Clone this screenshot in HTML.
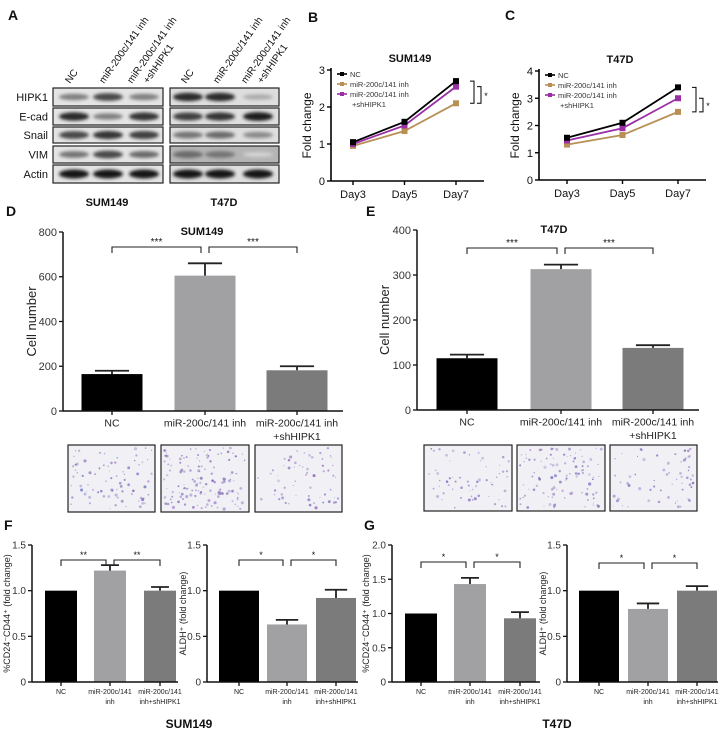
<!DOCTYPE html>
<html><head><meta charset="utf-8">
<style>
html,body{margin:0;padding:0;background:#fff;}
svg{display:block;font-family:"Liberation Sans",Arial,sans-serif;}
</style></head>
<body>
<svg id="fig" width="725" height="734" viewBox="0 0 725 734" xmlns="http://www.w3.org/2000/svg">
<defs>
<filter id="blur1" x="-20%" y="-80%" width="140%" height="260%"><feGaussianBlur stdDeviation="1.6"/></filter>
</defs>
</svg>
<script>
// ---------- data ----------
const blotRows=['HIPK1','E-cad','Snail','VIM','Actin'];
const blotSum=[[.5,.75,.5],[.9,.5,.85],[.75,.85,.8],[.55,.75,.6],[1,1,1]];
const blotT47=[[.9,.9,.3],[.8,.85,.95],[.55,.6,.45],[.6,.55,.1],[1,1,1]];

const dayLabels=['Day3','Day5','Day7'];
const bNC=[1.05,1.6,2.7];
const bInh=[0.95,1.35,2.1];
const bSh=[1.0,1.5,2.55];
const bTicks=[0,1,2,3];
const cNC=[1.55,2.1,3.4];
const cInh=[1.3,1.65,2.5];
const cSh=[1.45,1.9,3.0];
const cTicks=[0,1,2,3,4];

const dCats=['NC','miR-200c/141 inh','miR-200c/141 inh|+shHIPK1'];
const dVals=[165,605,182];
const dErr=[15,55,18];
const dTicks=[0,200,400,600,800];
const eVals=[115,313,138];
const eErr=[8,10,6];
const eTicks=[0,100,200,300,400];

const fCats=['NC','miR-200c/141|inh','miR-200c/141|inh+shHIPK1'];
const f1Vals=[1.0,1.22,1.0];
const f1Err=[0,0.06,0.04];
const f2Vals=[1.0,0.63,0.92];
const f2Err=[0,0.05,0.09];
const g1Vals=[1.0,1.43,0.93];
const g1Err=[0,0.09,0.09];
const g2Vals=[1.0,0.8,1.0];
const g2Err=[0,0.06,0.05];
const fTicks=[0,0.5,1.0,1.5];
const gTicks=[0,0.5,1.0,1.5,2.0];
const fTickText=['0','0.5','1.0','1.5'];
const gTickText=['0','0.5','1.0','1.5','2.0'];

// ---------- helpers ----------
const NS='http://www.w3.org/2000/svg';
const svg=document.getElementById('fig');
function el(tag,attrs,parent){const e=document.createElementNS(NS,tag);for(const k in attrs)e.setAttribute(k,attrs[k]);(parent||svg).appendChild(e);return e;}
function txt(s,x,y,size,opts,parent){opts=opts||{};const t=el('text',{x:x,y:y,'font-size':size,'text-anchor':opts.anchor||'middle',fill:opts.fill||'#111','font-weight':opts.bold?'bold':'normal'},parent);if(opts.transform)t.setAttribute('transform',opts.transform);t.textContent=s;return t;}

[['A',8,20],['B',308,22],['C',505,20],['D',6,216],['E',366,216],['F',4,530],['G',364,530]].forEach(p=>{
  const t=txt(p[0],p[1],p[2],14,{anchor:'start',bold:true});
  
  
});

// ---------- Panel A ----------
const rowY=[88,108,127,146,165], rowH=[18,17,16,17,18];
function blot(box,data,lanes,gName,darkVim){
  const g=el('g',{});
  
  
  for(let r=0;r<blotRows.length;r++){
    const bg=(darkVim&&r===3)?'#b4b4b4':(darkVim?'#dedede':'#e4e4e4');
    const rect=el('rect',{x:box[0],y:rowY[r],width:box[1]-box[0],height:rowH[r],fill:bg,stroke:'#222','stroke-width':1.2},g);
    
    
    for(let l=0;l<3;l++){
      const v=data[r][l];
      const c=Math.round(235-215*v);
      const e=el('ellipse',{cx:lanes[l],cy:rowY[r]+rowH[r]/2,rx:15,ry:2+2.5*v,fill:`rgb(${c},${c},${c})`,filter:'url(#blur1)'},g);
      
      
    }
  }
}
blot([53,163],blotSum,[74,108,144],'blot-sum149',false);
blot([170,279],blotT47,[188,220,258],'blot-t47d',true);
blotRows.forEach((n,r)=>{const t=txt(n,48,rowY[r]+rowH[r]/2+4,11,{anchor:'end'});});
[[74,'NC'],[108,'miR-200c/141 inh'],[136,'miR-200c/141 inh'],[152,'+shHIPK1'],[190,'NC'],[222,'miR-200c/141 inh'],[250,'miR-200c/141 inh'],[266,'+shHIPK1']].forEach(p=>{
  const t=txt(p[1],p[0]-4,84,10,{anchor:'start',transform:`rotate(-55 ${p[0]-4} 84)`});
  
  
});
[['SUM149',107],['T47D',224]].forEach(p=>{const t=txt(p[0],p[1],206,11,{bold:true});});

// ---------- line charts ----------
function lineChart(cfg){
  const g=el('g',{});
  
  
  const ys=v=>cfg.y0-(v/cfg.max)*(cfg.y0-cfg.yTop);
  const xs=i=>cfg.x1+i*cfg.step;
  el('line',{x1:cfg.ax,y1:cfg.yTop-2,x2:cfg.ax,y2:cfg.y0,stroke:'#000','stroke-width':1.6},g);
  el('line',{x1:cfg.ax,y1:cfg.y0,x2:cfg.xEnd,y2:cfg.y0,stroke:'#000','stroke-width':1.6},g);
  cfg.ticks.forEach(t=>{
    el('line',{x1:cfg.ax-4,y1:ys(t),x2:cfg.ax,y2:ys(t),stroke:'#000','stroke-width':1.4},g);
    const tl=txt(String(t),cfg.ax-6,ys(t)+4,11,{anchor:'end'},g);
    
    
  });
  dayLabels.forEach((d,i)=>{
    el('line',{x1:xs(i),y1:cfg.y0,x2:xs(i),y2:cfg.y0+4,stroke:'#000','stroke-width':1.4},g);
    const tl=txt(d,xs(i),cfg.y0+17,11,{},g);
    
    
  });
  const yt=txt('Fold change',cfg.ax-20,(cfg.y0+cfg.yTop)/2,12,{transform:`rotate(-90 ${cfg.ax-20} ${(cfg.y0+cfg.yTop)/2})`},g);
  
  
  const tt=txt(cfg.title,cfg.titleX,cfg.yTop-8,11,{bold:true},g);
  
  
  const series=[[cfg.inh,'#b89056','series-mir-inh'],[cfg.sh,'#9a2fa6','series-mir-inh-shhipk1'],[cfg.nc,'#000','series-nc']];
  series.forEach(s=>{
    const pts=s[0].map((v,i)=>xs(i)+','+ys(v)).join(' ');
    const pl=el('polyline',{points:pts,fill:'none',stroke:s[1],'stroke-width':1.8},g);
    
    
    s[0].forEach((v,i)=>{
      const m=el('rect',{x:xs(i)-3,y:ys(v)-3,width:6,height:6,fill:s[1]},g);
      
      
    });
  });
  const bx=cfg.xEnd-10;
  const yA=ys(cfg.nc[2]), yB=ys(cfg.inh[2]), yC=ys(cfg.sh[2]);
  el('polyline',{points:`${bx-4},${yA} ${bx},${yA} ${bx},${yB} ${bx-4},${yB}`,fill:'none',stroke:'#000','stroke-width':1},g);
  el('polyline',{points:`${bx+3},${yC} ${bx+7},${yC} ${bx+7},${yB} ${bx+3},${yB}`,fill:'none',stroke:'#000','stroke-width':1},g);
  txt('*',bx+12,(yC+yB)/2+4,9,{},g);
  const L=[['NC','#000'],['miR-200c/141 inh','#b89056'],['miR-200c/141 inh','#9a2fa6']];
  L.forEach((l,i)=>{
    const ly=cfg.yTop+4+i*10;
    const ln=el('line',{x1:cfg.ax+6,y1:ly,x2:cfg.ax+16,y2:ly,stroke:l[1],'stroke-width':1.6},g);
    
    
    el('rect',{x:cfg.ax+9,y:ly-2,width:4,height:4,fill:l[1]},g);
    txt(l[0],cfg.ax+19,ly+3,7.5,{anchor:'start',fill:'#333'},g);
  });
  txt('+shHIPK1',cfg.ax+21,cfg.yTop+4+30+3,7.5,{anchor:'start',fill:'#333'},g);
}
lineChart({name:'chart-b-sum149',ax:331,y0:181,yTop:70,max:3,x1:353,step:51.5,xEnd:484,ticks:bTicks,nc:bNC,inh:bInh,sh:bSh,title:'SUM149',titleX:410});
lineChart({name:'chart-c-t47d',ax:539,y0:180,yTop:71,max:4,x1:567,step:55.5,xEnd:706,ticks:cTicks,nc:cNC,inh:cInh,sh:cSh,title:'T47D',titleX:620});

// ---------- bar charts ----------
const barColors=['#000','#a1a1a3','#7b7b7b'];
function barChart(cfg){
  const g=el('g',{});
  
  
  const ys=v=>cfg.y0-(v/cfg.max)*(cfg.y0-cfg.yTop);
  cfg.vals.forEach((v,i)=>{
    const c=cfg.centers[i];
    const r=el('rect',{x:c-cfg.bw/2,y:ys(v),width:cfg.bw,height:cfg.y0-ys(v),fill:barColors[i]},g);
    
    
    if(cfg.err[i]>0){
      const e=el('path',{d:`M${c} ${ys(v)} V${ys(v+cfg.err[i])} M${c-cfg.bw*0.28} ${ys(v+cfg.err[i])} H${c+cfg.bw*0.28}`,stroke:'#222','stroke-width':1.8,fill:'none'},g);
      
      
    }
  });
  el('line',{x1:cfg.ax,y1:cfg.yTop,x2:cfg.ax,y2:cfg.y0,stroke:'#111','stroke-width':1.5},g);
  el('line',{x1:cfg.ax,y1:cfg.y0,x2:cfg.xEnd,y2:cfg.y0,stroke:'#111','stroke-width':1.5},g);
  cfg.ticks.forEach((t,i)=>{
    el('line',{x1:cfg.ax-4,y1:ys(t),x2:cfg.ax,y2:ys(t),stroke:'#111','stroke-width':1.3},g);
    const tl=txt(cfg.tickText?cfg.tickText[i]:String(t),cfg.ax-6,ys(t)+cfg.tfs/2.8,cfg.tfs,{anchor:'end',fill:'#333'},g);
    
    
  });
  cfg.cats.forEach((c,i)=>{
    const cx=cfg.centers[i];
    el('line',{x1:cx,y1:cfg.y0,x2:cx,y2:cfg.y0+4,stroke:'#111','stroke-width':1.3},g);
    c.split('|').forEach((line,j)=>{
      const tl=txt(line,cx,cfg.y0+cfg.cfs+5+j*(cfg.cfs+3),cfg.cfs,{fill:'#222'},g);
      
      
    });
  });
  const my=(cfg.y0+cfg.yTop)/2;
  const yt=txt(cfg.ytitle,cfg.ytx,my,cfg.ytfs,{transform:`rotate(-90 ${cfg.ytx} ${my})`,fill:'#222'},g);
  
  
  if(cfg.title){const tt=txt(cfg.title,cfg.titleX,cfg.yTop+3,11,{bold:true},g);}
  const c=cfg.centers, by=cfg.by;
  [[c[0],c[1]-4],[c[1]+4,c[2]]].forEach(p=>{
    const b=el('path',{d:`M${p[0]} ${by+6} V${by} H${p[1]} V${by+6}`,stroke:'#222','stroke-width':1.1,fill:'none'},g);
    
    
    txt(cfg.star,(p[0]+p[1])/2,by-2,cfg.tfs-1,{},g);
  });
}
barChart({name:'chart-d-sum149',ax:63,y0:411,yTop:232,max:800,centers:[112,205,297],bw:61,xEnd:343,vals:dVals,err:dErr,ticks:dTicks,cats:dCats,tfs:11,cfs:10.5,ytitle:'Cell number',ytx:36,ytfs:13,title:'SUM149',titleX:202,by:247,star:'***'});
barChart({name:'chart-e-t47d',ax:417,y0:410,yTop:230,max:400,centers:[467,561,653],bw:61,xEnd:699,vals:eVals,err:eErr,ticks:eTicks,cats:dCats,tfs:11,cfs:10.5,ytitle:'Cell number',ytx:389,ytfs:13,title:'T47D',titleX:554,by:248,star:'***'});
barChart({name:'chart-f-cd24-cd44',ax:32,y0:682,yTop:545,max:1.5,centers:[61,110,160],bw:32,xEnd:178,vals:f1Vals,err:f1Err,ticks:fTicks,tickText:fTickText,cats:fCats,tfs:10,cfs:7,ytitle:'%CD24⁻CD44⁺ (fold change)',ytx:10,ytfs:9,by:560,star:'**'});
barChart({name:'chart-f-aldh',ax:207,y0:682,yTop:545,max:1.5,centers:[239,287,336],bw:40,xEnd:358,vals:f2Vals,err:f2Err,ticks:fTicks,tickText:fTickText,cats:fCats,tfs:10,cfs:7,ytitle:'ALDH⁺ (fold change)',ytx:186,ytfs:9,by:560,star:'*'});
barChart({name:'chart-g-cd24-cd44',ax:392,y0:682,yTop:545,max:2,centers:[421,470,520],bw:32,xEnd:540,vals:g1Vals,err:g1Err,ticks:gTicks,tickText:gTickText,cats:fCats,tfs:10,cfs:7,ytitle:'%CD24⁻CD44⁺ (fold change)',ytx:369,ytfs:9,by:562,star:'*'});
barChart({name:'chart-g-aldh',ax:567,y0:682,yTop:545,max:1.5,centers:[599,648,697],bw:40,xEnd:718,vals:g2Vals,err:g2Err,ticks:fTicks,tickText:fTickText,cats:fCats,tfs:10,cfs:7,ytitle:'ALDH⁺ (fold change)',ytx:546,ytfs:9,by:563,star:'*'});
[['SUM149',189],['T47D',557]].forEach(p=>{const t=txt(p[0],p[1],728,12,{bold:true});});

// ---------- transwell micrographs ----------
let seed=7;function rnd(){seed=(seed*16807)%2147483647;return seed/2147483647;}
function micro(x,y,w,h,n,name){
  const g=el('g',{});
  
  
  el('rect',{x:x,y:y,width:w,height:h,fill:'#f1f0f5',stroke:'#222','stroke-width':1.2},g);
  for(let i=0;i<n;i++){
    el('circle',{cx:x+3+rnd()*(w-6),cy:y+3+rnd()*(h-6),r:0.5+rnd()*1.1,fill:`rgba(${100+rnd()*40|0},${80+rnd()*30|0},${160+rnd()*40|0},${0.3+rnd()*0.45})`},g);
  }
}
micro(68,445,87,67,80,'micrograph-sum149-nc');
micro(161,445,88,67,140,'micrograph-sum149-inh');
micro(255,445,87,67,60,'micrograph-sum149-shhipk1');
micro(424,445,88,66,60,'micrograph-t47d-nc');
micro(517,445,88,66,100,'micrograph-t47d-inh');
micro(610,445,87,66,60,'micrograph-t47d-shhipk1');
</script>
</body></html>
